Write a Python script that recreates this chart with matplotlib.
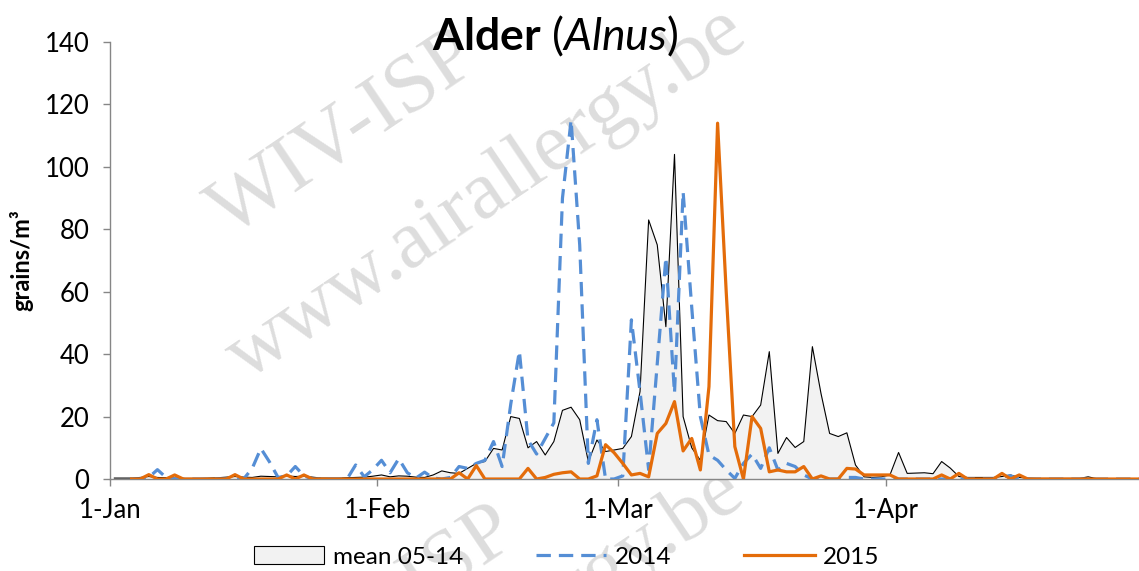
import numpy as np
import matplotlib
matplotlib.use('Agg')
import matplotlib.pyplot as plt
from matplotlib.patches import Patch
from matplotlib.lines import Line2D

nan = np.nan
# day index: 0 = 1 January ... 119 = 30 April
days = np.arange(120)

mean_0514 = ([0.3, 0.3, 0.3, 0.5, 0.8, 0.5, 0.4, 0.3, 0.2, 0.2, 0.2, 0.3, 0.4, 0.6, 0.8, 0.6,
              0.5, 0.9, 0.8, 0.7, 1.0, 0.8, 0.9, 0.6, 0.3, 0.3, 0.3, 0.4, 0.5, 0.6, 0.9]
             + [1.3, 0.7, 1.0, 0.9, 0.6, 0.5, 1.3, 2.6, 2.0, 1.8]
             + [3.4, 5.0, 5.6, 9.8, 9.3, 20, 19.4, 10, 12, 7.7]
             + [12, 22, 23, 19, 5.6, 12.5, 8.8, 9.3, 9.8, 13.6]
             + [28, 83, 75, 48.8, 104, 20, 10, 6, 20.5, 18.7]
             + [18.4, 14.6, 20.5, 20, 23.7, 40.8, 8.2, 13.3, 10.1, 12]
             + [42.4, 27.4, 14.6, 13.6, 14.8, 4.5, 0.7, 0.5, 0.7, 1.3]
             + [8.5, 1.8, 1.9, 2.0, 1.7, 5.6, 3.5, 0.8, 0.5, 0.5]
             + [0.5, 0.5, 0.8, 1.3, 0.5, 0.3, 0.2, 0.2, 0.2, 0.2]
             + [0.2, 0.2, 0.7, 0.1, 0.1, 0.1, 0.1, 0.1, 0.1])

y2014 = ([nan, nan]
         + [0, 0, 0.5, 3, 0.5, 0, 0, 0, 0]
         + [0, 0, 0, 0, 0, 3.4, 9.8, 5.5, 0.5, 1]
         + [4, 1, 0, 0, 0, 0, 0, 4.5, 0.7, 3]
         + [6, 2, 6.5, 2, 0.3, 2.2, 0.3, 0, 0.5, 4]
         + [3.4, 5, 6, 12, 4, 24, 41, 12.5, 8, 13]
         + [18, 90, 115, 75, 5, 19, 0, 0, 1, 51]
         + [28, 3, 37, 71, 27.5, 92, 55, 20, 7.7, 6]
         + [2.9, 0.2, 5, 8, 3.4, 10, 2.9, 5, 4, 1.3]
         + [0, 0, 0, 0, 0.5, 0.5, 0, 0, 0, 0]
         + [0, 0, 0, 0, 0, 0, 0, 0, 0, 0]
         + [0, 0, 0.8, 1, 0, 0, 0, 0, 0, 0]
         + [0, 0, 0, 0, 0, 0, 0, 0, 0])

y2015 = ([nan, nan]
         + [0, 0, 1.4, 0, 0, 1.3, 0, 0, 0]
         + [0, 0, 0, 1.4, 0, 0, 0, 0, 0, 1.3]
         + [0, 1.3, 0, 0, 0, 0, 0, 0, 0, 0]
         + [0, 0, 0, 0, 0, 0, 0, 0, 0, 2]
         + [0, 4.3, 0, 0, 0, 0, 0, 3.4, 0, 0.5]
         + [1.5, 2, 2.3, 0, 0, 1, 11, 8.4, 5, 1.3]
         + [1.8, 0.7, 14.6, 17.8, 24.8, 9, 13, 2.9, 29.6, 114]
         + [60, 10.4, 0, 20, 16.2, 2.3, 2.9, 2.3, 2.3, 4]
         + [0, 1, 0, 0, 3.4, 3.2, 1.3, 1.3, 1.3, 1.3]
         + [0, 0, 0, 0, 0, 1.3, 0, 1.8, 0, 0]
         + [0, 0, 1.8, 0, 1.3, 0, 0, 0, 0, 0]
         + [0, 0, 0, 0, 0, 0, 0, 0, 0])

month_starts = [0, 31, 59, 90]
month_labels = ['1-Jan', '1-Feb', '1-Mar', '1-Apr']
y_ticks = [0, 20, 40, 60, 80, 100, 120, 140]
series_labels = ['mean 05-14', '2014', '2015']

plt.rcParams['font.family'] = ['Lato', 'DejaVu Sans']
plt.rcParams['mathtext.fontset'] = 'custom'
plt.rcParams['mathtext.rm'] = 'Lato'
plt.rcParams['mathtext.bf'] = 'Lato:bold'
plt.rcParams['mathtext.it'] = 'Lato:italic'

BLUE = '#558ED5'
ORANGE = '#E46C0A'
FILL = '#F2F2F2'
AXIS = '#868686'

fig = plt.figure(figsize=(11.39, 5.71), dpi=100)
ax = fig.add_axes([0.0966, 0.1611, 0.9034, 0.7653])
ax.set_facecolor('none')

# watermark (drawn behind the chart)
wm = dict(family='Liberation Serif', color='#DDDDDD', zorder=-5, ha='center', va='center',
          rotation=34, rotation_mode='anchor', fontsize=60)
fig.text(345 / 1139, 1 - 135 / 571, 'WIV-ISP', **wm)
fig.text(487 / 1139, 1 - 195 / 571, 'www.airallergy.be', **wm)
fig.text(383 / 1139, 1 - 610 / 571, 'WIV-ISP', **wm)
fig.text(485 / 1139, 1 - 655 / 571, 'www.airallergy.be', **wm)

x = days + 0.5
m = np.array(mean_0514, dtype=float)
ax.fill_between(x, 0, m, color=FILL, lw=0, zorder=1)
ax.plot(x, m, color='black', lw=0.8, zorder=2)
ax.plot(x, y2014, color=BLUE, lw=2.3, dashes=(4.5, 2.5), zorder=3)
ax.plot(x, y2015, color=ORANGE, lw=2.3, zorder=4)

ax.set_xlim(0, 119.4)
ax.set_ylim(0, 140)
ax.set_xticks(month_starts)
ax.set_xticklabels(month_labels)
ax.set_yticks(y_ticks)
for s in ['top', 'right']:
    ax.spines[s].set_visible(False)
for s in ['left', 'bottom']:
    ax.spines[s].set_color(AXIS)
    ax.spines[s].set_linewidth(1.0)
ax.tick_params(axis='both', colors=AXIS, labelcolor='black', labelsize=18.5,
               direction='out', length=5, width=1)
ax.tick_params(axis='x', pad=9)
ax.tick_params(axis='y', pad=10)

ax.set_ylabel('grains/m³', fontsize=17, fontweight='bold', labelpad=8)

fig.text(555 / 1139, 1 - 50 / 571, r'$\mathbf{Alder}$ ($\mathit{Alnus}$)',
         fontsize=32, ha='center', va='baseline')

handles = [Patch(facecolor=FILL, edgecolor='black', lw=0.8),
           Line2D([], [], color=BLUE, lw=2.3, dashes=(4.5, 2.5)),
           Line2D([], [], color=ORANGE, lw=2.3)]
fig.legend(handles, series_labels, loc='center', bbox_to_anchor=(0.4975, 1 - 557 / 571),
           ncol=3, frameon=False, fontsize=17.5, handlelength=2.9, handletextpad=0.35,
           columnspacing=3.0, borderaxespad=0, borderpad=0)

fig.savefig('out.png', dpi=100)
